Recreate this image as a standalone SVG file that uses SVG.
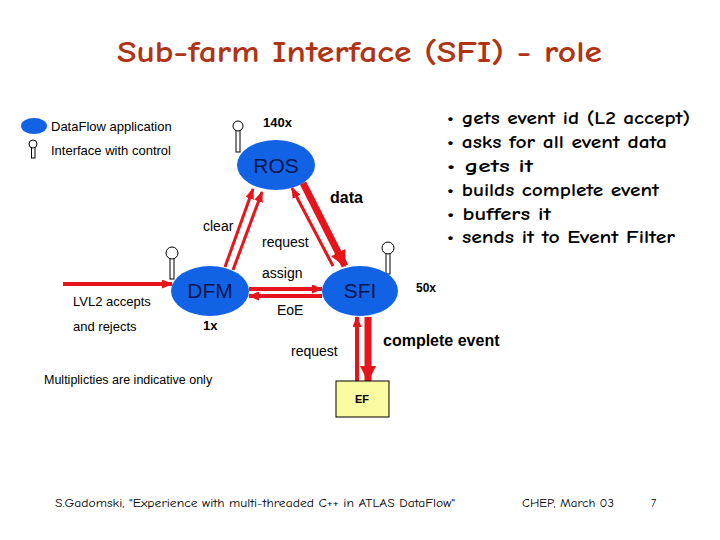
<svg xmlns="http://www.w3.org/2000/svg" width="720" height="540" viewBox="0 0 720 540">
<defs>
<style>
.t{font-family:"Liberation Sans",Arial,sans-serif;fill:#000}
.c{font-family:"Comic Neue","Liberation Sans",sans-serif;fill:#000}
.cb{font-weight:bold}
.node{fill:#1262e6}
.nl{font-family:"Liberation Sans",Arial,sans-serif;font-size:21px;fill:#0a1650;text-anchor:middle}
.ant{fill:#fff;stroke:#000;stroke-width:1}
.ar{stroke:#e8141c;fill:none}
.b{font-weight:bold}
</style>
<marker id="ah" markerUnits="userSpaceOnUse" markerWidth="11" markerHeight="9" refX="10" refY="4.5" orient="auto"><path d="M0,0 L11,4.5 L0,9 z" fill="#e8141c"/></marker>
<marker id="ahb" markerUnits="userSpaceOnUse" markerWidth="16" markerHeight="16" refX="15" refY="8" orient="auto"><path d="M0,0 L16,8 L0,16 z" fill="#e8141c"/></marker>
</defs>
<rect width="720" height="540" fill="#fff"/>
<text x="117" y="62" font-family="Comic Neue,'Liberation Sans',sans-serif" font-size="30" font-weight="bold" fill="#b03414" textLength="485" lengthAdjust="spacingAndGlyphs">Sub-farm Interface (SFI) - role</text>
<g id="legend">
<ellipse class="node" cx="34" cy="126" rx="13" ry="8"/>
<text class="t" x="51" y="131" font-size="13">DataFlow application</text>
<rect class="ant" x="31.5" y="147" width="3.5" height="11"/>
<circle class="ant" cx="33" cy="144" r="4"/>
<text class="t" x="51" y="155" font-size="13">Interface with control</text>
</g>
<g id="connectors">
<line class="ar" x1="63" y1="284" x2="172" y2="284" stroke-width="4" marker-end="url(#ah)"/>
<line class="ar" x1="225" y1="267" x2="253" y2="189" stroke-width="3" marker-end="url(#ah)"/>
<line class="ar" x1="233" y1="270" x2="262" y2="192" stroke-width="3" marker-end="url(#ah)"/>
<line class="ar" x1="333" y1="266" x2="292" y2="188" stroke-width="3" marker-end="url(#ah)"/>
<line class="ar" x1="303" y1="183" x2="345" y2="266" stroke-width="7" marker-end="url(#ahb)"/>
<line class="ar" x1="249" y1="289" x2="322" y2="289" stroke-width="4" marker-end="url(#ah)"/>
<line class="ar" x1="322" y1="296" x2="249" y2="296" stroke-width="4" marker-end="url(#ah)"/>
<line class="ar" x1="357" y1="381" x2="357" y2="317" stroke-width="4" marker-end="url(#ah)"/>
<line class="ar" x1="368" y1="317" x2="368" y2="381" stroke-width="7" marker-end="url(#ahb)"/>
</g>
<g id="ROS">
<rect class="ant" x="236" y="129" width="4" height="23"/>
<circle class="ant" cx="238" cy="126" r="5"/>
<ellipse class="node" cx="276" cy="165" rx="39" ry="25"/>
<text class="nl" x="276" y="173">ROS</text>
<text class="t b" x="263" y="127" font-size="13">140x</text>
</g>
<g id="DFM">
<rect class="ant" x="170" y="256" width="4" height="23"/>
<circle class="ant" cx="172" cy="253" r="6"/>
<ellipse class="node" cx="210" cy="291" rx="39" ry="25"/>
<text class="nl" x="210" y="298">DFM</text>
<text class="t b" x="203" y="330" font-size="13">1x</text>
</g>
<g id="SFI">
<rect class="ant" x="386" y="251" width="4" height="23"/>
<circle class="ant" cx="388" cy="248" r="6"/>
<ellipse class="node" cx="360" cy="291" rx="38" ry="25"/>
<text class="nl" x="360" y="298">SFI</text>
<text class="t b" x="416" y="292" font-size="12">50x</text>
</g>
<g id="EF">
<rect x="336" y="381" width="53" height="36" fill="#fafaa0" stroke="#000" stroke-width="1"/>
<text class="t b" x="362" y="403" font-size="11" text-anchor="middle">EF</text>
</g>
<g id="labels">
<text class="t" x="73" y="306" font-size="13">LVL2 accepts</text>
<text class="t" x="73" y="331" font-size="13">and rejects</text>
<text class="t" x="203" y="231" font-size="14">clear</text>
<text class="t" x="262" y="247" font-size="14">request</text>
<text class="t" x="262" y="278" font-size="14">assign</text>
<text class="t" x="277" y="315" font-size="14">EoE</text>
<text class="t b" x="330" y="203" font-size="16">data</text>
<text class="t" x="291" y="356" font-size="14">request</text>
<text class="t b" x="383" y="346" font-size="16">complete event</text>
<text class="t" x="44" y="384" font-size="12.5">Multiplicties are indicative only</text>
</g>
<g id="bullets" font-size="19">
<text class="c cb" x="447" y="124" textLength="243" lengthAdjust="spacingAndGlyphs">• gets event id (L2 accept)</text>
<text class="c cb" x="447" y="148" textLength="220" lengthAdjust="spacingAndGlyphs">• asks for all event data</text>
<text class="c cb" x="447" y="172" textLength="86" lengthAdjust="spacingAndGlyphs">• gets it</text>
<text class="c cb" x="447" y="196" textLength="212" lengthAdjust="spacingAndGlyphs">• builds complete event</text>
<text class="c cb" x="447" y="220" textLength="104" lengthAdjust="spacingAndGlyphs">• buffers it</text>
<text class="c cb" x="447" y="243" textLength="228" lengthAdjust="spacingAndGlyphs">• sends it to Event Filter</text>
</g>
<g id="footer" font-size="11">
<text class="c" x="55" y="507" textLength="400" lengthAdjust="spacingAndGlyphs">S.Gadomski, "Experience with multi-threaded C++ in ATLAS DataFlow"</text>
<text class="c" x="522" y="507" textLength="92" lengthAdjust="spacingAndGlyphs">CHEP, March 03</text>
<text class="c" x="651" y="507">7</text>
</g>
</svg>
